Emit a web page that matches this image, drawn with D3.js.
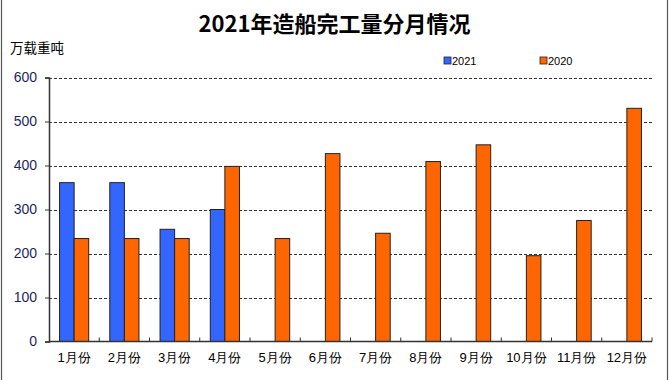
<!DOCTYPE html>
<html><head><meta charset="utf-8">
<script src="https://cdn.jsdelivr.net/npm/d3@7"></script>
<style>
body{margin:0;background:#fff;}
svg{display:block;font-family:"Noto Sans CJK SC","Noto Sans",sans-serif;}
</style></head>
<body><svg id="c" width="670" height="380"></svg>
<script>
const categories = ["1月份","2月份","3月份","4月份","5月份","6月份","7月份","8月份","9月份","10月份","11月份","12月份"];
const seriesNames = ["2021","2020"];
const values2021 = [361, 361, 255, 300, null, null, null, null, null, null, null, null];
const values2020 = [234, 234, 234, 398, 234, 427, 246, 409, 447, 195, 275, 530];
const yTicks = [0,100,200,300,400,500,600];
const colors = ["#3366FF","#FF6600"];

const svg = d3.select("#c");
const m = {l:49, r:652, t:77.5, b:341.5};
const x = d3.scaleBand().domain(categories).range([m.l, m.r]).paddingInner(0).paddingOuter(0);
const x1 = d3.scaleBand().domain(seriesNames).range([0, x.bandwidth()*0.58]);
const y = d3.scaleLinear().domain([0,600]).range([m.b, m.t]);

// outer frame
svg.append("line").attr("x1",1.5).attr("x2",1.5).attr("y1",0).attr("y2",380).attr("stroke","#555").attr("stroke-width",1.2);
svg.append("line").attr("x1",667.5).attr("x2",667.5).attr("y1",0).attr("y2",380).attr("stroke","#555").attr("stroke-width",1.2);

// title
svg.append("text").attr("x",334.5).attr("y",31.5).attr("text-anchor","middle")
  .attr("font-size",22).attr("font-weight","bold").attr("fill","#000").text("2021年造船完工量分月情况");
svg.append("text").attr("x",10).attr("y",53).attr("font-size",13.5).attr("fill","#000").text("万载重吨");

// gridlines
svg.append("g").selectAll("line").data(yTicks.filter(d=>d>0)).join("line")
  .attr("x1",m.l).attr("x2",m.r).attr("y1",d=>Math.round(y(d))+0.5).attr("y2",d=>Math.round(y(d))+0.5)
  .attr("stroke","#333").attr("stroke-dasharray","3,2").attr("stroke-width",1);

// y axis
const ya = svg.append("g").attr("transform",`translate(${m.l},0)`)
  .call(d3.axisLeft(y).tickValues(yTicks).tickSize(4).tickPadding(8));
ya.select(".domain").attr("stroke","#333").attr("stroke-width",1.5);
ya.selectAll(".tick line").attr("stroke","#333");
ya.selectAll("text").attr("font-size",14).attr("fill","#1f1f5f").attr("font-family","Liberation Sans, Arial, sans-serif");

// bars
const groups = svg.append("g").selectAll("g").data(categories).join("g")
  .attr("transform",d=>`translate(${x(d)+x.bandwidth()/2 - x.bandwidth()*0.29},0)`);
groups.selectAll("rect").data((d,i)=>[{s:"2021",v:values2021[i]},{s:"2020",v:values2020[i]}].filter(e=>e.v!=null))
  .join("rect")
  .attr("x",e=>x1(e.s)).attr("width",x1.bandwidth())
  .attr("y",e=>y(e.v)).attr("height",e=>y(0)-y(e.v))
  .attr("fill",e=>colors[seriesNames.indexOf(e.s)]).attr("stroke","#222").attr("stroke-width",1);

// x axis
const xa = svg.append("g").attr("transform",`translate(0,${m.b})`)
  .call(d3.axisBottom(x).tickSize(0).tickPadding(11));
xa.select(".domain").remove();
xa.selectAll("text").attr("font-size",13).attr("fill","#000");
svg.append("line").attr("x1",m.l).attr("x2",m.r).attr("y1",m.b).attr("y2",m.b).attr("stroke","#333").attr("stroke-width",1.5);
// category boundary ticks (inside)
svg.append("g").selectAll("line").data(categories.slice(1).concat(["__end"])).join("line")
  .attr("x1",d=>d==="__end"?m.r:x(d)).attr("x2",d=>d==="__end"?m.r:x(d))
  .attr("y1",m.b).attr("y2",m.b-4).attr("stroke","#333");

// legend
const lg = svg.append("g").selectAll("g").data(seriesNames).join("g")
  .attr("transform",(d,i)=>`translate(${444+i*96},57)`);
lg.append("rect").attr("width",7).attr("height",7).attr("fill",(d,i)=>colors[i]).attr("stroke","#222").attr("stroke-width",0.8);
lg.append("text").attr("x",8).attr("y",8).attr("font-size",11).attr("fill","#000")
  .attr("font-family","Liberation Sans, Arial, sans-serif").text(d=>d);
</script></body></html>
